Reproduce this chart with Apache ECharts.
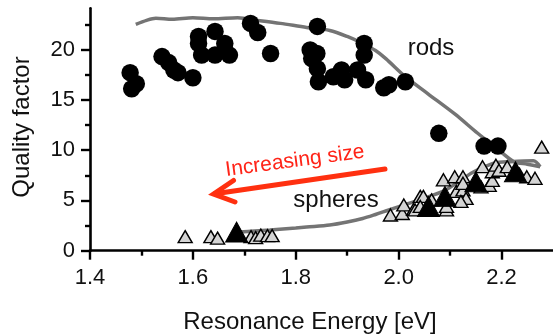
<!DOCTYPE html>
<html>
<head>
<meta charset="utf-8">
<script src="https://cdn.jsdelivr.net/npm/echarts@6/dist/echarts.min.js"></script>
<style>
  html, body { margin: 0; padding: 0; background: #fff; }
  #chart { width: 553px; height: 334px; }
</style>
</head>
<body>
<div id="chart"></div>
<script>
// Resonance energy [eV], quality factor
const rodsPoints = [
  [1.478, 17.7], [1.481, 16.1], [1.490, 16.6],
  [1.540, 19.3], [1.553, 18.7], [1.563, 17.96], [1.571, 17.7], [1.600, 17.2],
  [1.611, 21.3], [1.611, 20.6], [1.617, 19.45], [1.643, 21.8], [1.643, 19.45],
  [1.662, 20.6], [1.671, 19.45],
  [1.712, 22.6], [1.726, 21.7], [1.751, 19.6],
  [1.828, 19.95], [1.842, 22.3], [1.841, 19.6], [1.831, 19.1], [1.842, 18.1], [1.844, 16.8],
  [1.873, 17.3], [1.889, 17.96], [1.895, 17.0], [1.920, 17.96], [1.936, 17.0],
  [1.933, 20.6], [1.933, 19.45],
  [1.971, 16.2], [1.981, 16.5], [2.013, 16.8], [2.078, 11.67], [2.166, 10.4], [2.193, 10.4]
];

const spheresPoints = [
  [1.585, 1.4], [1.635, 1.4], [1.648, 1.25], [1.713, 1.4], [1.722, 1.3],
  [1.732, 1.55], [1.745, 1.5], [1.754, 1.5],
  [1.984, 3.55], [2.007, 3.7], [2.010, 4.55], [2.029, 4.1], [2.032, 4.05],
  [2.042, 5.4], [2.048, 5.4], [2.042, 4.4], [2.064, 5.05], [2.087, 7.05],
  [2.093, 4.05], [2.093, 4.4], [2.109, 7.35], [2.125, 7.35], [2.112, 5.9],
  [2.125, 6.05], [2.131, 5.2], [2.121, 4.9], [2.125, 6.7], [2.160, 6.35],
  [2.163, 8.35], [2.176, 6.5], [2.182, 7.0], [2.182, 7.85], [2.189, 8.5],
  [2.195, 8.0], [2.211, 8.35], [2.235, 7.6], [2.249, 7.35], [2.265, 7.2], [2.278, 10.3]
];

// highlighted spheres
const spheresHighlight = [
  [1.685, 1.85], [2.058, 4.4], [2.090, 5.4], [2.150, 6.85], [2.227, 7.85]
];

// model curves
const rodsModel = [
  [1.489, 22.5], [1.510, 22.9], [1.528, 23.1], [1.560, 23.0], [1.600, 23.15],
  [1.640, 23.05], [1.687, 23.15], [1.726, 22.9], [1.770, 22.6], [1.821, 22.2],
  [1.866, 21.9], [1.900, 21.3], [1.930, 20.6], [1.955, 19.9], [1.975, 19.1],
  [2.013, 17.3], [2.057, 15.6], [2.109, 13.6], [2.153, 11.7], [2.190, 10.2],
  [2.224, 8.85], [2.250, 8.6], [2.275, 8.35]
];

const spheresModel = [
  [1.690, 1.85], [1.720, 1.95], [1.750, 2.05], [1.800, 2.25], [1.821, 2.35],
  [1.866, 2.55], [1.900, 2.85], [1.930, 3.2], [1.955, 3.6], [1.981, 4.05],
  [2.005, 4.45], [2.032, 4.9], [2.060, 5.4], [2.090, 6.0], [2.115, 6.8],
  [2.141, 7.7], [2.165, 8.3], [2.185, 8.7], [2.217, 8.85], [2.262, 8.95], [2.275, 8.35]
];

const xTicks = [1.4, 1.6, 1.8, 2.0, 2.2];
const xMinorTicks = [1.5, 1.7, 1.9, 2.1];
const yTicks = [0, 5, 10, 15, 20];
const yMinorTicks = [2.5, 7.5, 12.5, 17.5, 22.5];

const FONT = "'Liberation Sans', Arial, Helvetica, sans-serif";
const X_MIN = 1.4, X_MAX = 2.3, Y_MIN = 0, Y_MAX = 24.1;

const chart = echarts.init(document.getElementById('chart'), null, { renderer: 'canvas' });

const axisLineStyle = { show: true, onZero: false, lineStyle: { color: '#000', width: 2.6 } };

chart.setOption({
  animation: false,
  backgroundColor: '#fff',
  grid: { left: 90, right: -7, top: 8.3, bottom: 83.3, containLabel: false },
  xAxis: [
    {
      type: 'value', min: X_MIN, max: X_MAX, position: 'bottom',
      axisLine: axisLineStyle,
      axisTick: { show: true, inside: false, length: 9, customValues: xTicks,
                  lineStyle: { color: '#000', width: 2.4 } },
      axisLabel: { show: true, customValues: xTicks, margin: 16, fontSize: 22,
                   fontFamily: FONT, color: '#111',
                   formatter: v => Number(v).toFixed(1) },
      splitLine: { show: false }
    },
    {
      type: 'value', min: X_MIN, max: X_MAX, position: 'bottom', offset: 0,
      axisLine: { show: false, onZero: false },
      axisTick: { show: true, inside: false, length: 5, customValues: xMinorTicks,
                  lineStyle: { color: '#000', width: 2.4 } },
      axisLabel: { show: false },
      splitLine: { show: false }
    }
  ],
  yAxis: [
    {
      type: 'value', min: Y_MIN, max: Y_MAX, position: 'left',
      axisLine: axisLineStyle,
      axisTick: { show: true, inside: false, length: 9, customValues: yTicks,
                  lineStyle: { color: '#000', width: 2.4 } },
      axisLabel: { show: true, customValues: yTicks, margin: 15, fontSize: 22,
                   fontFamily: FONT, color: '#111' },
      splitLine: { show: false }
    },
    {
      type: 'value', min: Y_MIN, max: Y_MAX, position: 'left', offset: 0,
      axisLine: { show: false, onZero: false },
      axisTick: { show: true, inside: false, length: 5, customValues: yMinorTicks,
                  lineStyle: { color: '#000', width: 2.4 } },
      axisLabel: { show: false },
      splitLine: { show: false }
    }
  ],
  series: [
    {
      name: 'rods model', type: 'line', data: rodsModel, smooth: 0.3,
      showSymbol: false, z: 1,
      lineStyle: { color: '#747474', width: 3.5 }
    },
    {
      name: 'spheres model', type: 'line', data: spheresModel, smooth: 0.3,
      showSymbol: false, z: 1,
      lineStyle: { color: '#747474', width: 3.5 }
    },
    {
      name: 'rods', type: 'scatter', data: rodsPoints, symbol: 'circle', symbolSize: 17.5,
      z: 3, itemStyle: { color: '#000', opacity: 1 }
    },
    {
      name: 'spheres', type: 'scatter', data: spheresPoints, symbol: 'triangle',
      symbolSize: [14, 12], z: 3,
      itemStyle: { color: '#d4d4d4', borderColor: '#000', borderWidth: 1.4, opacity: 1 }
    },
    {
      name: 'spheres highlighted', type: 'scatter', data: spheresHighlight, symbol: 'triangle',
      symbolSize: [22, 20], z: 4,
      itemStyle: { color: '#000', borderColor: '#000', borderWidth: 1, opacity: 1 }
    }
  ],
  graphic: [
    {
      type: 'text', x: 22, y: 127, rotation: Math.PI / 2,
      style: { text: 'Quality factor', font: '24px ' + FONT, fill: '#111',
               align: 'center', verticalAlign: 'middle' }
    },
    {
      type: 'text', x: 310, y: 322,
      style: { text: 'Resonance Energy [eV]', font: '24px ' + FONT, fill: '#111',
               align: 'center', verticalAlign: 'middle' }
    },
    {
      type: 'text', x: 431, y: 48,
      style: { text: 'rods', font: '24px ' + FONT, fill: '#111',
               align: 'center', verticalAlign: 'middle' }
    },
    {
      type: 'text', x: 336, y: 200,
      style: { text: 'spheres', font: '24px ' + FONT, fill: '#111',
               align: 'center', verticalAlign: 'middle' }
    },
    {
      type: 'text', x: 295, y: 161, rotation: 0.133,
      style: { text: 'Increasing size', font: '21px ' + FONT, fill: '#ff2418',
               align: 'center', verticalAlign: 'middle' }
    },
    {
      type: 'polyline', z: 10,
      shape: { points: [[385, 169], [215, 193.7]] },
      style: { stroke: '#ff3010', lineWidth: 5, lineCap: 'round', fill: null }
    },
    {
      type: 'polyline', z: 10,
      shape: { points: [[233.5, 180.5], [213.5, 194], [235, 202]] },
      style: { stroke: '#ff3010', lineWidth: 5, lineCap: 'round', lineJoin: 'miter', fill: null }
    }
  ]
});
</script>
</body>
</html>
